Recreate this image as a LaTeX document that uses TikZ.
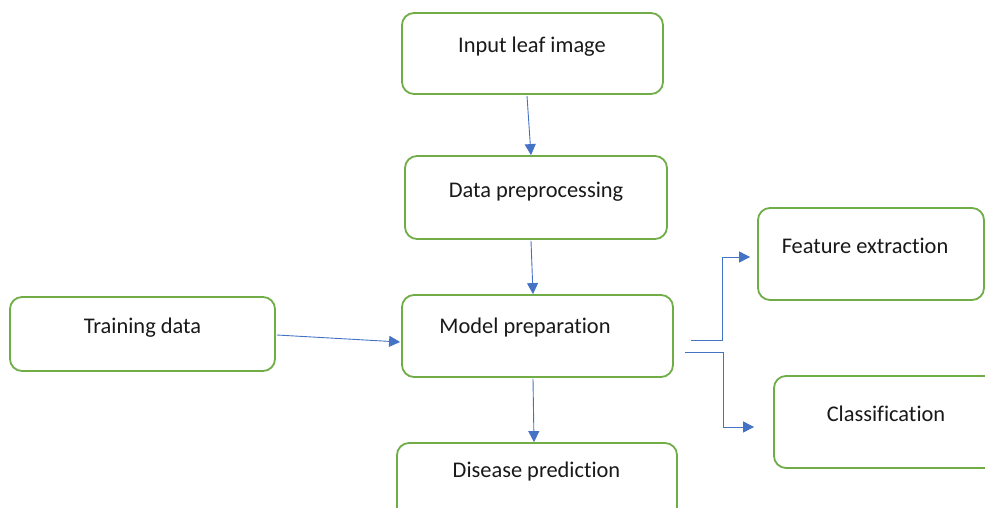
\documentclass[tikz,border=0pt]{standalone}
\usepackage{fontspec}
\setmainfont[Ligatures=NoCommon]{Carlito}
\usetikzlibrary{arrows.meta}
\definecolor{boxgreen}{HTML}{70AD47}
\definecolor{arrblue}{HTML}{4472C4}
\begin{document}
\begin{tikzpicture}[x=1pt,y=-1pt,
  box/.style={draw=boxgreen,line width=1.8pt,rounded corners=12pt,fill=white,inner sep=0pt},
  lbl/.style={anchor=base,inner sep=0pt,text=black!90,font=\fontsize{22.4}{26}\selectfont},
  arr/.style={draw=arrblue,line width=0.9pt,-{Triangle[length=11pt,width=11pt]}}]
\useasboundingbox (0,0) rectangle (985,508);
\begin{scope}
\clip (0,0) rectangle (985,508);
\node[box,minimum width=261pt,minimum height=81pt] (inp) at (532.5,53.5) {};
\node[box,minimum width=262pt,minimum height=83pt] (pre) at (536,197.5) {};
\node[box,minimum width=271pt,minimum height=82pt] (mod) at (537.5,336) {};
\node[box,minimum width=265pt,minimum height=74pt] (trn) at (142.5,334) {};
\node[box,minimum width=280pt,minimum height=87pt] (dis) at (537,486.5) {};
\node[box,minimum width=226pt,minimum height=92pt] (fea) at (871,254) {};
\node[box,minimum width=226pt,minimum height=92pt] (cls) at (887,422) {};
\node[lbl] (tinp) at (532,53) {Input leaf image};
\node[lbl] (tpre) at (536,197) {Data preprocessing};
\node[lbl] (ttrn) at (142.5,333) {Training data};
\node[lbl] (tmod) at (525,333) {Model preparation};
\node[lbl] (tdis) at (536.5,477) {Disease prediction};
\node[lbl] (tfea) at (865,253) {Feature extraction};
\node[lbl] (tcls) at (886,421) {Classification};
\draw[arr] ([xshift=-5.5pt,yshift=-1pt]inp.south) -- ([xshift=-5pt]pre.north);
\draw[arr] ([xshift=-5pt,yshift=-1pt]pre.south) -- ([xshift=-4.5pt]mod.north);
\draw[arr] ([xshift=1pt,yshift=-1pt]trn.east) -- ([xshift=-1pt,yshift=-6pt]mod.west);
\draw[arr] ([xshift=-4.5pt,yshift=-1pt]mod.south) -- ([xshift=-3pt]dis.north);
\coordinate (e1) at ([xshift=17pt,yshift=-4pt]mod.east);
\coordinate (e2) at ([xshift=11pt,yshift=-16pt]mod.east);
\draw[arr,rounded corners=0pt] (e1) -- ++(32,0) |- ([xshift=-7pt,yshift=-3pt]fea.west);
\draw[arr,rounded corners=0pt] (e2) -- ++(39,0) |- ([xshift=-19pt,yshift=-5pt]cls.west);
\end{scope}
\end{tikzpicture}
\end{document}
